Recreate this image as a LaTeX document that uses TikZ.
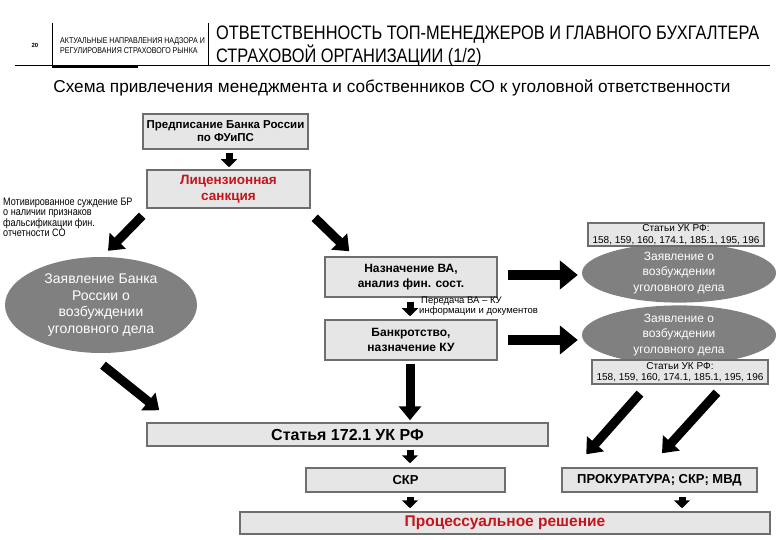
\documentclass[tikz,border=0pt]{standalone}
\usepackage{fontspec}
\setmainfont{Liberation Sans}
\newfontfamily\narrowfont{Liberation Sans}[FakeStretch=0.84]
\usetikzlibrary{arrows.meta,shapes.geometric}
\definecolor{boxfill}{HTML}{E6E6E6}
\definecolor{boxedge}{HTML}{6E6E6E}
\definecolor{ovalfill}{HTML}{808080}
\definecolor{redtext}{HTML}{C4141C}
\newcommand{\fsz}[2]{\fontsize{#1}{#2}\selectfont}

\begin{document}
\begin{tikzpicture}[x=1pt, y=-1pt,
  box/.style={draw=boxedge, line width=1.5pt, fill=boxfill, inner sep=0pt, align=center, font=\fsz{12}{15}\bfseries},
  stat/.style={draw=boxedge, line width=1.2pt, fill=boxfill, inner sep=0pt, align=center, font=\fsz{10}{11.5}},
  oval/.style={ellipse, fill=ovalfill, inner sep=0pt, align=center, text=white},
  bigarr/.style={-{Triangle[width=22pt,length=14pt]}, line width=9pt},
  widearr/.style={-{Triangle[width=28pt,length=18pt]}, line width=10pt},
  smallarr/.style={-{Triangle[width=16pt,length=8pt]}, line width=7pt}]
  \useasboundingbox[fill=white] (0,0) rectangle (780,540);

  % header
  \node[font=\fsz{6}{7}\bfseries] (pnum) at (35,45) {20};
  \node[anchor=west, align=left, font=\narrowfont\fsz{8.4}{10}, inner sep=0pt] (section) at (60,46)
    {АКТУАЛЬНЫЕ НАПРАВЛЕНИЯ НАДЗОРА И\\РЕГУЛИРОВАНИЯ СТРАХОВОГО РЫНКА};
  \node[anchor=west, align=left, font=\narrowfont\fsz{19.5}{19}, inner sep=0pt] (title) at (216,46)
    {ОТВЕТСТВЕННОСТЬ ТОП-МЕНЕДЖЕРОВ И ГЛАВНОГО БУХГАЛТЕРА\\СТРАХОВОЙ ОРГАНИЗАЦИИ (1/2)};
  \draw[line width=1pt] (52,23) -- (52,66) (208,23) -- (208,66);
  \draw[line width=1pt] (15,66) -- (770,66);
  \draw[line width=2pt] (52,67) -- (138,67);
  \node[font=\fsz{17.2}{19}] (subtitle) at (392,88)
    {Схема привлечения менеджмента и собственников СО к уголовной ответственности};

  % boxes
  \node[box, minimum width=165pt, minimum height=35pt, font=\fsz{11.5}{13}\bfseries] (presc) at (225.5,131.5) {Предписание Банка России\\по ФУиПС};
  \node[box, minimum width=163pt, minimum height=38pt, font=\fsz{13.5}{16}\bfseries, text=redtext] (lic) at (228.5,189) {Лицензионная\\санкция};
  \node[box, minimum width=172pt, minimum height=40pt] (nazn) at (411,277) {Назначение ВА,\\анализ фин. сост.};
  \node[box, minimum width=172pt, minimum height=40pt] (bankr) at (411,340) {Банкротство,\\назначение КУ};
  \node[box, minimum width=401pt, minimum height=23pt, font=\fsz{16}{17}\bfseries] (art172) at (347.5,434.5) {Статья 172.1 УК РФ};
  \node[box, minimum width=199pt, minimum height=24pt, font=\fsz{13}{15}\bfseries] (skr) at (405.5,480) {СКР};
  \node[box, minimum width=195pt, minimum height=24pt, font=\fsz{13}{15}\bfseries] (prok) at (659.5,480) {ПРОКУРАТУРА; СКР; МВД};
  \node[box, minimum width=530pt, minimum height=22pt, font=\fsz{15.5}{17}\bfseries, text=redtext] (proc) at (505,523) {Процессуальное решение};

  % ovals
  \node[oval, minimum width=192pt, minimum height=96pt, font=\fsz{14}{16.5}] (zbr) at (101,305) {Заявление Банка\\России о\\возбуждении\\уголовного дела};
  \node[oval, minimum width=194pt, minimum height=53pt, font=\fsz{12}{15.5}] (z1) at (679,273) {Заявление о\\возбуждении\\уголовного дела};
  \node[oval, minimum width=194pt, minimum height=54pt, font=\fsz{12}{15.5}] (z2) at (679,335) {Заявление о\\возбуждении\\уголовного дела};
  \node[stat, minimum width=176pt, minimum height=23pt] (stat1) at (676,234.5) {Статьи УК РФ:\\158, 159, 160, 174.1, 185.1, 195, 196};
  \node[stat, minimum width=176pt, minimum height=24pt] (stat2) at (680,372) {Статьи УК РФ:\\158, 159, 160, 174.1, 185.1, 195, 196};

  % free labels
  \node[anchor=north west, align=left, inner sep=0pt, font=\narrowfont\fsz{10.8}{9.5}] (motiv) at (3,198)
    {Мотивированное суждение БР\\о наличии признаков\\фальсификации фин.\\отчетности СО};
  \node[anchor=north west, align=left, inner sep=0pt, font=\fsz{9.5}{10}] (transfer) at (419,297)
    {\hspace{2pt}Передача ВА – КУ\\информации и документов};

  % arrows
  \draw[smallarr] ([shift={(3.5,3)}]presc.south) -- ([shift={(0.5,-2)}]lic.north);
  \draw[bigarr] ([shift={(-4,7)}]lic.south west) -- ([shift={(7,-6)}]zbr.north);
  \draw[bigarr] ([shift={(4,9)}]lic.south east) -- ([shift={(25,-5)}]nazn.north west);
  \draw[bigarr] ([shift={(2,12)}]zbr.south) -- ([shift={(13,-12)}]art172.north west);
  \draw[widearr] ([shift={(10,-2)}]nazn.east) -- ([shift={(-4,2)}]z1.west);
  \draw[widearr] ([shift={(10,0)}]bankr.east) -- ([shift={(-4,5)}]z2.west);
  \draw[smallarr] ([shift={(-1,4)}]nazn.south) -- ([shift={(-1,-3)}]bankr.north);
  \draw[bigarr] ([shift={(-1,3)}]bankr.south) -- ([shift={(62.5,-2)}]art172.north);
  \draw[bigarr] ([shift={(-40,9)}]stat2.south) -- ([shift={(25,-13)}]prok.north west);
  \draw[bigarr] ([shift={(37,8)}]stat2.south) -- ([shift={(2.5,-14)}]prok.north);
  \draw[smallarr] ([shift={(62.5,3)}]art172.south) -- ([shift={(4.5,-4)}]skr.north);
  \draw[smallarr] ([shift={(4.5,4)}]skr.south) -- ([shift={(-95,-3)}]proc.north);
  \draw[smallarr] ([shift={(22.5,4)}]prok.south) -- ([shift={(177,-3)}]proc.north);
\end{tikzpicture}
\end{document}
